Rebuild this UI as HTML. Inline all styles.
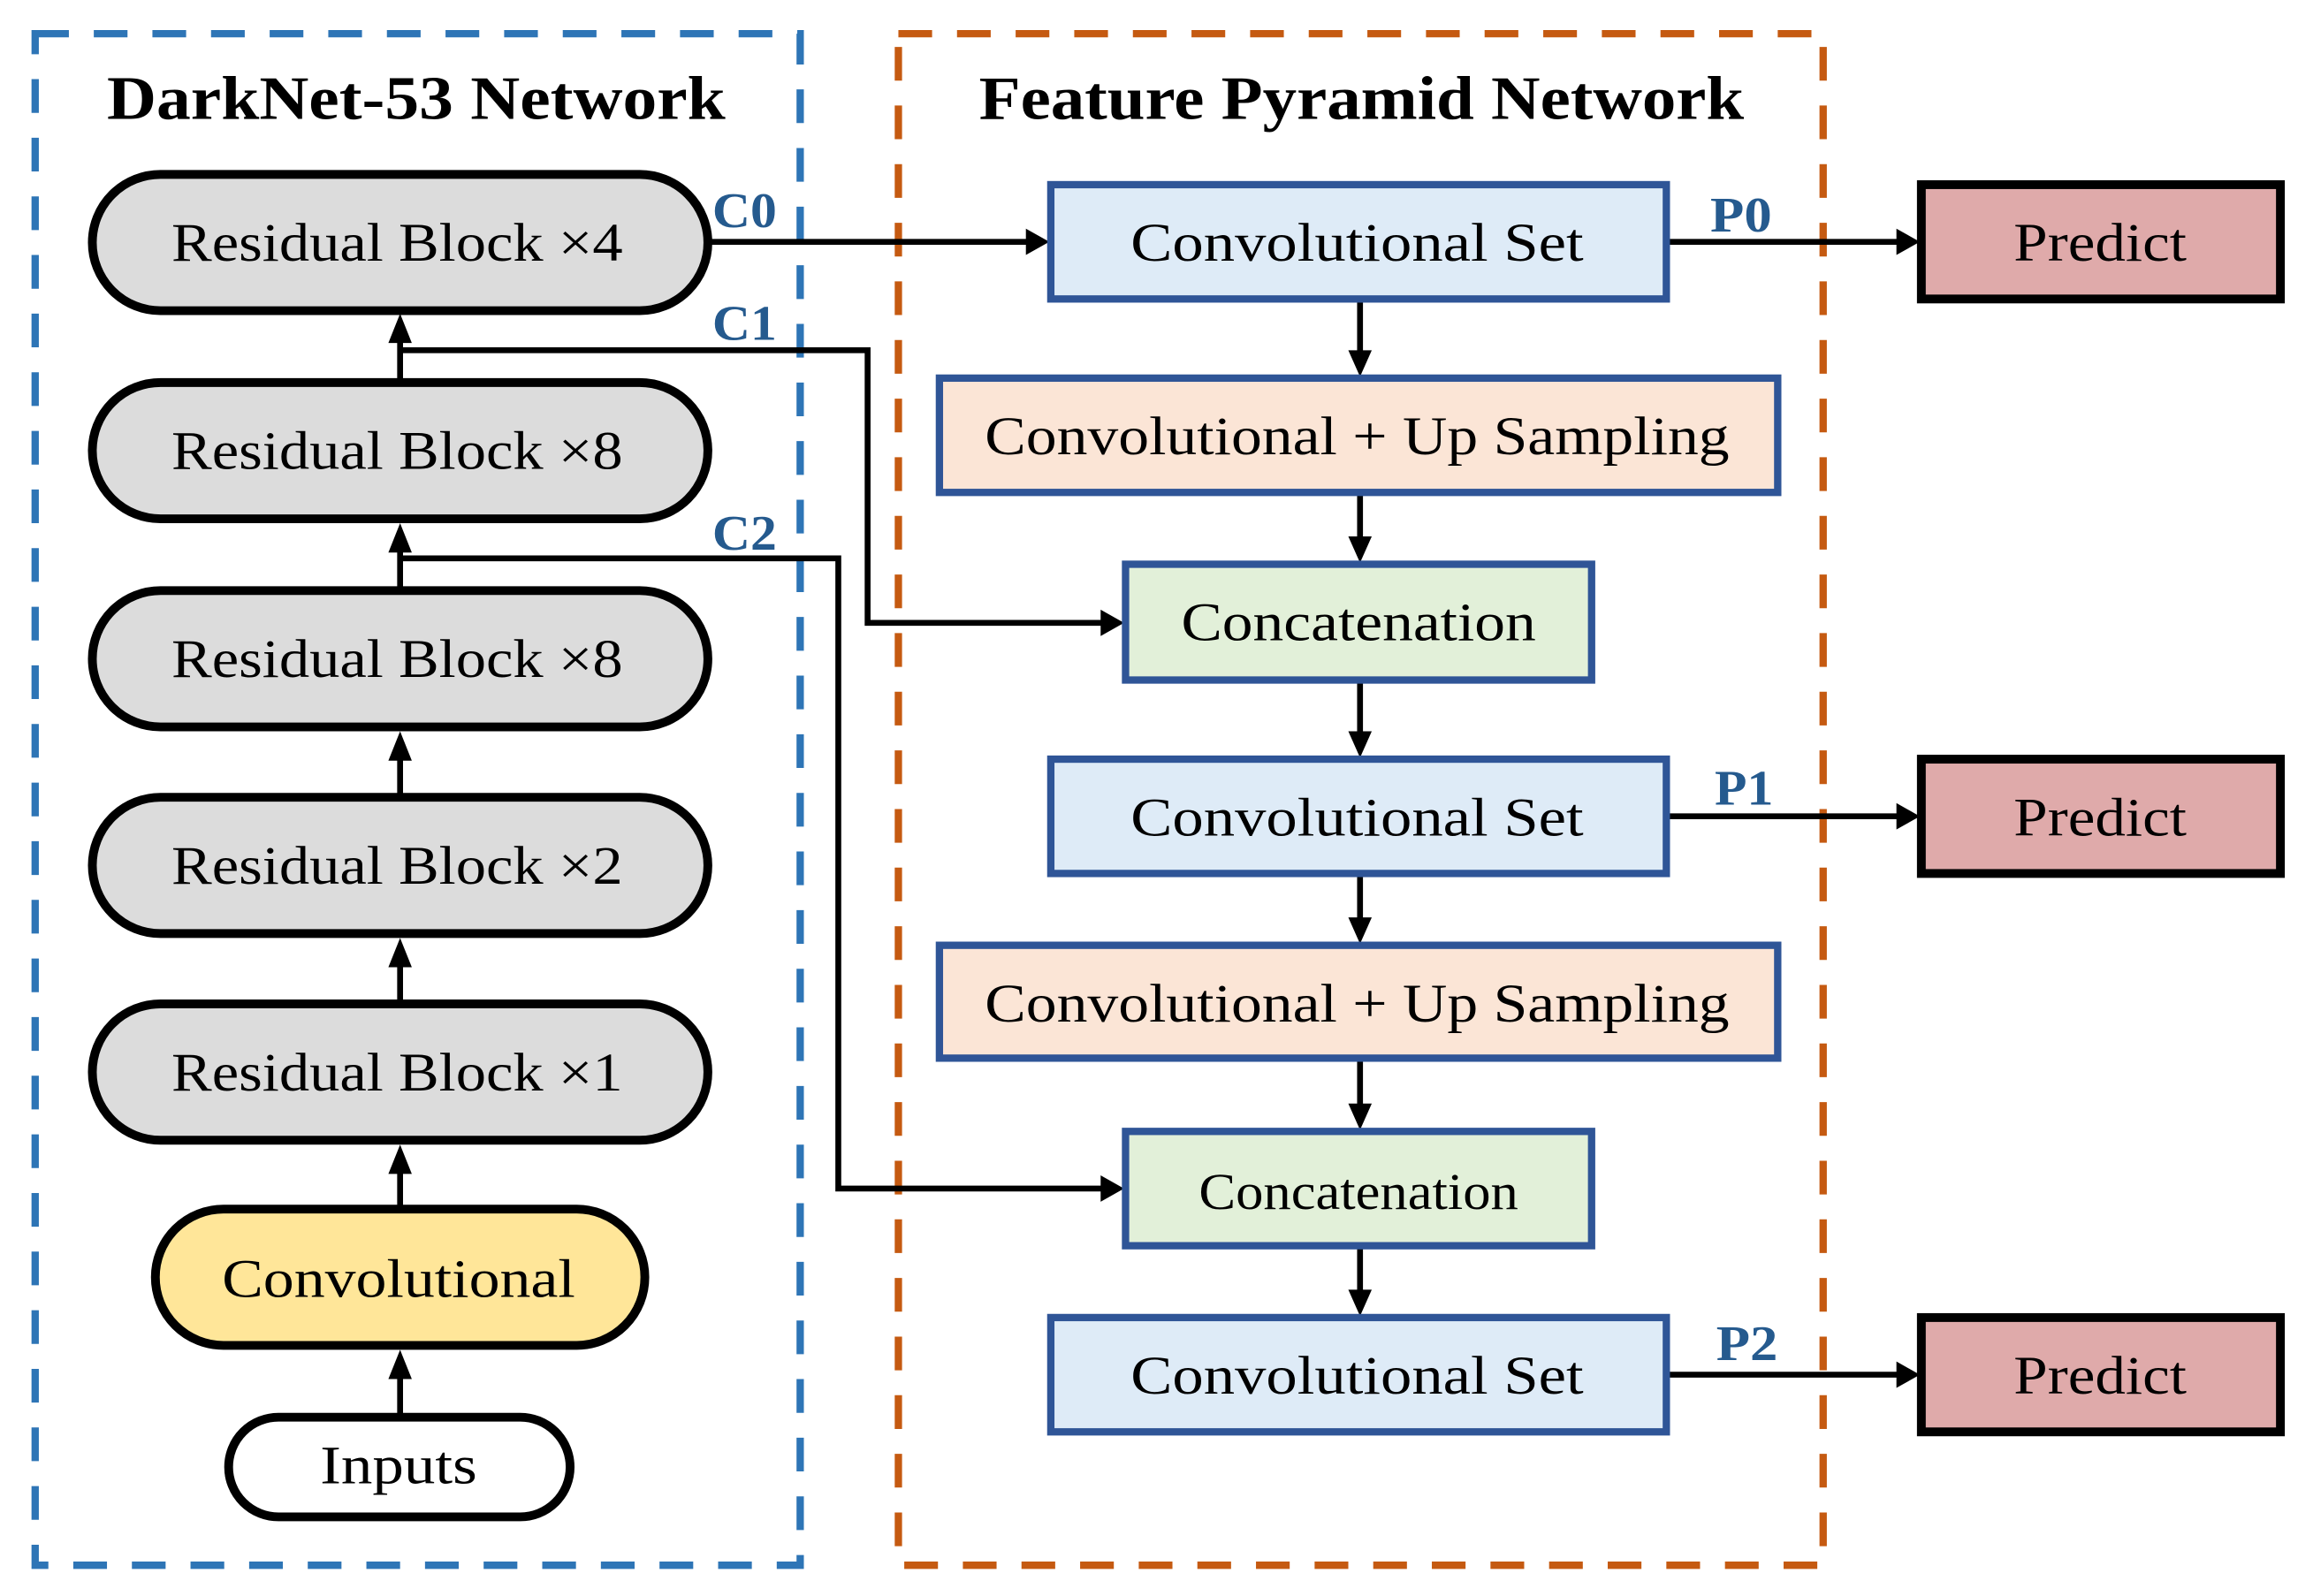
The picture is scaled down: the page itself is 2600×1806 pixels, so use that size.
<!DOCTYPE html>
<html><head><meta charset="utf-8"><style>
html,body{margin:0;padding:0;background:#fff;}
svg{display:block;}
text{font-family:"Liberation Serif",serif;}
</style></head><body>
<svg width="2600" height="1806" viewBox="0 0 1568 1089" preserveAspectRatio="none" xmlns="http://www.w3.org/2000/svg">
<defs>
<marker id="ah" markerWidth="8" markerHeight="8" refX="7" refY="4" orient="auto" markerUnits="userSpaceOnUse" viewBox="0 0 8 8">
</marker>
</defs>
<rect width="1568" height="1089" fill="#fff"/>
<!-- dashed containers -->
<rect x="24" y="23" width="522" height="1045" fill="none" stroke="#2e75b6" stroke-width="5" stroke-dasharray="23 17"/>
<rect x="613" y="23" width="631" height="1045" fill="none" stroke="#c55a11" stroke-width="5" stroke-dasharray="23 17"/>
<text x="284" y="81" text-anchor="middle" font-size="42" font-weight="bold" textLength="422" lengthAdjust="spacingAndGlyphs">DarkNet-53 Network</text>
<text x="929" y="81" text-anchor="middle" font-size="42" font-weight="bold" textLength="522" lengthAdjust="spacingAndGlyphs">Feature Pyramid Network</text>

<!-- connectors -->
<g stroke="#000" stroke-width="4" fill="none">
<line x1="483" y1="165" x2="702" y2="165"/>
<polyline points="273,239 592,239 592,425 752,425"/>
<polyline points="273,381 572,381 572,811 752,811"/>
<line x1="273" y1="260" x2="273" y2="232"/>
<line x1="273" y1="402" x2="273" y2="374"/>
<line x1="273" y1="543" x2="273" y2="515"/>
<line x1="273" y1="684" x2="273" y2="656"/>
<line x1="273" y1="824" x2="273" y2="797"/>
<line x1="273" y1="966" x2="273" y2="938"/>
<line x1="928" y1="205" x2="928" y2="243"/>
<line x1="928" y1="337" x2="928" y2="370"/>
<line x1="928" y1="465" x2="928" y2="503"/>
<line x1="928" y1="597" x2="928" y2="630"/>
<line x1="928" y1="723" x2="928" y2="757"/>
<line x1="928" y1="851" x2="928" y2="884"/>
<line x1="1138" y1="165" x2="1296" y2="165"/>
<line x1="1138" y1="557" x2="1296" y2="557"/>
<line x1="1138" y1="938" x2="1296" y2="938"/>
</g>
<g fill="#000">
<polygon points="716,165 700,156 700,174"/>
<polygon points="767,425 751,416 751,434"/>
<polygon points="767,811 751,802 751,820"/>
<polygon points="1310,165 1294,156 1294,174"/>
<polygon points="1310,557 1294,548 1294,566"/>
<polygon points="1310,938 1294,929 1294,947"/>
<polygon points="273,214 265,234 281,234"/>
<polygon points="273,357 265,377 281,377"/>
<polygon points="273,499 265,519 281,519"/>
<polygon points="273,640 265,660 281,660"/>
<polygon points="273,781 265,801 281,801"/>
<polygon points="273,921 265,941 281,941"/>
<polygon points="928,257 920,239 936,239"/>
<polygon points="928,384 920,366 936,366"/>
<polygon points="928,517 920,499 936,499"/>
<polygon points="928,644 920,626 936,626"/>
<polygon points="928,771 920,753 936,753"/>
<polygon points="928,898 920,880 936,880"/>
</g>

<!-- left stadiums -->
<g stroke="#000" stroke-width="6">
<rect x="63" y="119" width="420" height="93" rx="46.5" fill="#dcdcdc"/>
<rect x="63" y="261" width="420" height="93" rx="46.5" fill="#dcdcdc"/>
<rect x="63" y="403" width="420" height="93" rx="46.5" fill="#dcdcdc"/>
<rect x="63" y="544" width="420" height="93" rx="46.5" fill="#dcdcdc"/>
<rect x="63" y="685" width="420" height="93" rx="46.5" fill="#dcdcdc"/>
<rect x="106" y="825" width="334" height="93" rx="46.5" fill="#ffe699"/>
<rect x="156" y="967" width="233" height="68" rx="34" fill="#fff"/>
</g>
<g font-size="37" text-anchor="middle">
<text x="271" y="178" textLength="308" lengthAdjust="spacingAndGlyphs">Residual Block ×4</text>
<text x="271" y="320" textLength="308" lengthAdjust="spacingAndGlyphs">Residual Block ×8</text>
<text x="271" y="462" textLength="308" lengthAdjust="spacingAndGlyphs">Residual Block ×8</text>
<text x="271" y="603" textLength="308" lengthAdjust="spacingAndGlyphs">Residual Block ×2</text>
<text x="271" y="744" textLength="308" lengthAdjust="spacingAndGlyphs">Residual Block ×1</text>
<text x="272" y="885" textLength="241" lengthAdjust="spacingAndGlyphs">Convolutional</text>
<text x="272" y="1012" textLength="107" lengthAdjust="spacingAndGlyphs">Inputs</text>
</g>

<!-- FPN boxes -->
<g stroke="#2f5597" stroke-width="5">
<rect x="717" y="126" width="420" height="78" fill="#deebf7"/>
<rect x="641" y="258" width="572" height="78" fill="#fbe5d6"/>
<rect x="768" y="385" width="318" height="79" fill="#e2f0d9"/>
<rect x="717" y="518" width="420" height="78" fill="#deebf7"/>
<rect x="641" y="645" width="572" height="77" fill="#fbe5d6"/>
<rect x="768" y="772" width="318" height="78" fill="#e2f0d9"/>
<rect x="717" y="899" width="420" height="78" fill="#deebf7"/>
</g>
<g stroke="#000" stroke-width="6" fill="#dfaaaa">
<rect x="1311" y="126" width="245" height="78"/>
<rect x="1311" y="518" width="245" height="78"/>
<rect x="1311" y="899" width="245" height="78"/>
</g>
<g font-size="37" text-anchor="middle">
<text x="926" y="178" textLength="309" lengthAdjust="spacingAndGlyphs">Convolutional Set</text>
<text x="926" y="310" textLength="508" lengthAdjust="spacingAndGlyphs">Convolutional + Up Sampling</text>
<text x="927" y="437" textLength="242" lengthAdjust="spacingAndGlyphs">Concatenation</text>
<text x="926" y="570" textLength="309" lengthAdjust="spacingAndGlyphs">Convolutional Set</text>
<text x="926" y="697" textLength="508" lengthAdjust="spacingAndGlyphs">Convolutional + Up Sampling</text>
<text x="927" y="825" font-size="35" textLength="218" lengthAdjust="spacingAndGlyphs">Concatenation</text>
<text x="926" y="951" textLength="309" lengthAdjust="spacingAndGlyphs">Convolutional Set</text>
<text x="1433" y="178" textLength="118" lengthAdjust="spacingAndGlyphs">Predict</text>
<text x="1433" y="570" textLength="118" lengthAdjust="spacingAndGlyphs">Predict</text>
<text x="1433" y="951" textLength="118" lengthAdjust="spacingAndGlyphs">Predict</text>
</g>

<!-- labels -->
<g font-size="34" font-weight="bold" fill="#255a8e" text-anchor="middle">
<text x="508" y="155" textLength="44" lengthAdjust="spacingAndGlyphs">C0</text>
<text x="508" y="232" textLength="44" lengthAdjust="spacingAndGlyphs">C1</text>
<text x="508" y="375" textLength="44" lengthAdjust="spacingAndGlyphs">C2</text>
<text x="1188" y="158" textLength="42" lengthAdjust="spacingAndGlyphs">P0</text>
<text x="1190" y="549" textLength="40" lengthAdjust="spacingAndGlyphs">P1</text>
<text x="1192" y="928" textLength="42" lengthAdjust="spacingAndGlyphs">P2</text>
</g>
</svg>
</body></html>
